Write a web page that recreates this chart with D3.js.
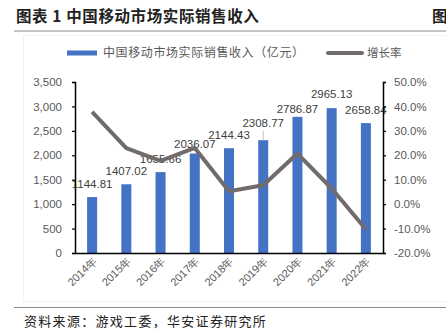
<!DOCTYPE html>
<html><head><meta charset="utf-8">
<script src="https://cdn.jsdelivr.net/npm/d3@7"></script>
<style>
html,body{margin:0;padding:0;background:#fff;}
svg{display:block;}
</style></head>
<body>
<svg id="c" width="446" height="335"></svg>
<script>
const categories = ["2014年","2015年","2016年","2017年","2018年","2019年","2020年","2021年","2022年"];
const revenue = [1144.81,1407.02,1655.66,2036.07,2144.43,2308.77,2786.87,2965.13,2658.84];
const growth = [37.8,22.9,17.7,23.0,5.3,7.7,20.7,6.4,-10.3];
const leftTicks = [0,500,1000,1500,2000,2500,3000,3500];
const rightTicks = [-20,-10,0,10,20,30,40,50];
const titleText = "图表 1 中国移动市场实际销售收入";
const legendBar = "中国移动市场实际销售收入（亿元）";
const legendLine = "增长率";
const sourceText = "资料来源：游戏工委，华安证券研究所";

(function(){
const svg = d3.select("#c");
const sans = "'Liberation Sans', Arial, sans-serif";
const cjk = "'Noto Sans CJK SC', sans-serif";
const pL = 75, pR = 383, pT = 82, pB = 253;

// title
svg.append("text").attr("x",16).attr("y",22).attr("font-family",cjk).attr("font-weight","bold")
  .attr("font-size",15.5).attr("letter-spacing",0.6).attr("fill","#222").text(titleText);
svg.append("text").attr("x",432).attr("y",22).attr("font-family",cjk).attr("font-weight","bold")
  .attr("font-size",15.5).attr("fill","#222").text("图");
svg.append("line").attr("x1",14).attr("x2",446).attr("y1",31).attr("y2",31).attr("stroke","#8c8c8c").attr("stroke-width",1.2);
svg.append("rect").attr("x",23.5).attr("y",35.5).attr("width",430).attr("height",266).attr("fill","none").attr("stroke","#f2f2f2");

const xc = d3.scalePoint().domain(categories).range([pL,pR]).padding(0.5);
const yL = d3.scaleLinear().domain([0,3500]).range([pB,pT]);
const yR = d3.scaleLinear().domain([-20,50]).range([pB,pT]);

// bars
svg.append("g").selectAll("rect").data(revenue).join("rect")
  .attr("x",(d,i)=>xc(categories[i])-5).attr("width",10)
  .attr("y",d=>yL(d)).attr("height",d=>pB-yL(d)).attr("fill","#4472C4");

// data labels
const lblOffset = [13,13,13,9.5,13,17,8,14,13];
svg.append("g").selectAll("text").data(revenue).join("text")
  .attr("x",(d,i)=>xc(categories[i])).attr("y",(d,i)=>yL(d)-lblOffset[i]+4)
  .attr("text-anchor","middle").attr("font-family",sans).attr("font-size",11.5).attr("fill","#404040")
  .text(d=>d.toFixed(2));
svg.append("line").attr("x1",xc(categories[5])).attr("x2",xc(categories[5]))
  .attr("y1",yL(revenue[5])-9).attr("y2",yL(revenue[5])).attr("stroke","#bfbfbf").attr("stroke-width",1);

// line
svg.append("path").datum(growth)
  .attr("d",d3.line().x((d,i)=>xc(categories[i])).y(d=>yR(d)))
  .attr("fill","none").attr("stroke","#716b6b").attr("stroke-width",4).attr("stroke-linejoin","round");

// axes
const gl = svg.append("g").attr("transform",`translate(${pL},0)`)
  .call(d3.axisLeft(yL).tickValues(leftTicks).tickSize(3).tickFormat(d3.format(",")));
const gr = svg.append("g").attr("transform",`translate(${pR},0)`)
  .call(d3.axisRight(yR).tickValues(rightTicks).tickSize(3).tickFormat(d=>d.toFixed(1)+"%"));
const gb = svg.append("g").attr("transform",`translate(0,${pB})`)
  .call(d3.axisBottom(xc).tickSize(0));
[gl,gr,gb].forEach(g=>{
  g.select(".domain").attr("stroke","#000").attr("stroke-width",1.5);
  g.selectAll(".tick line").attr("stroke","#000").attr("stroke-width",1.2);
  g.selectAll("text").attr("font-family",sans).attr("font-size",11.5).attr("fill","#595959");
});
gl.selectAll("text").attr("x",-13);
gr.selectAll("text").attr("x",11);
gb.selectAll("text").attr("font-size",11).attr("text-anchor","end")
  .attr("transform","translate(2,6) rotate(-45)").attr("dy","0.35em").attr("y",0).attr("x",0);

// legend
svg.append("rect").attr("x",67).attr("y",50.5).attr("width",30).attr("height",5).attr("fill","#4472C4");
svg.append("text").attr("x",103).attr("y",57).attr("font-family",cjk).attr("font-size",12).attr("letter-spacing",0.6).attr("fill","#595959").text(legendBar);
svg.append("line").attr("x1",328).attr("x2",362).attr("y1",53).attr("y2",53).attr("stroke","#716b6b").attr("stroke-width",4).attr("stroke-linecap","round");
svg.append("text").attr("x",367).attr("y",57).attr("font-family",cjk).attr("font-size",11.5).attr("fill","#595959").text(legendLine);

// bottom rule and source
svg.append("line").attr("x1",14).attr("x2",446).attr("y1",307.5).attr("y2",307.5).attr("stroke","#8c8c8c").attr("stroke-width",1.2);
svg.append("text").attr("x",24).attr("y",326).attr("font-family",cjk).attr("font-size",13).attr("letter-spacing",1.3).attr("fill","#222").text(sourceText);
})();
</script>
</body></html>
